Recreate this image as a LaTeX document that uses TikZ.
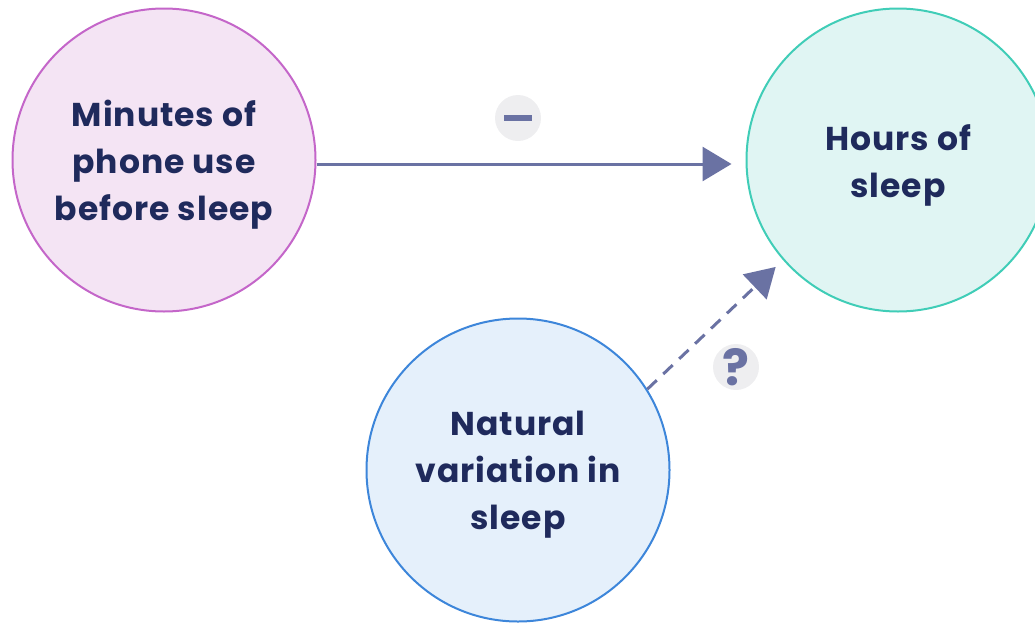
\documentclass[tikz,border=0pt]{standalone}
\usepackage{fontspec}
\setmainfont{Poppins}[LetterSpace=3]
\usetikzlibrary{arrows.meta}
\definecolor{navy}{HTML}{1F2A5C}
\definecolor{arrowc}{HTML}{6A72A3}
\definecolor{pinkfill}{HTML}{F4E4F4}
\definecolor{pinkline}{HTML}{C466C9}
\definecolor{tealfill}{HTML}{E0F5F3}
\definecolor{tealline}{HTML}{40CDB7}
\definecolor{bluefill}{HTML}{E5F0FB}
\definecolor{blueline}{HTML}{3D86DA}
\definecolor{badgefill}{HTML}{EEEEF0}
\tikzset{
  bubble/.style={circle, minimum size=303pt, inner sep=0pt, line width=2pt},
  lbl/.style={align=center, text=navy, inner sep=0pt,
    font=\fontsize{33}{47}\selectfont\bfseries},
  link/.style={draw=arrowc, line width=3pt, -{Triangle[length=29pt,width=34pt]}},
  badge/.style={circle, fill=badgefill, minimum size=46pt, inner sep=0pt},
}
\begin{document}
\begin{tikzpicture}[x=1pt,y=-1pt]
\useasboundingbox (0,0) rectangle (1035,624);
\node[bubble, fill=pinkfill, draw=pinkline] (L) at (164,160) {};
\node[bubble, fill=tealfill, draw=tealline] (R) at (898,160) {};
\node[bubble, fill=bluefill, draw=blueline] (B) at (518,470) {};
\node[lbl] (Lt) at ([yshift=-5pt]L.center) {Minutes of\\phone use\\before sleep};
\node[lbl] (Rt) at ([yshift=-5pt]R.center) {Hours of\\sleep};
\node[lbl] (Bt) at ([yshift=-5pt]B.center) {Natural\\variation in\\sleep};
\draw[link, shorten >=14pt] ([yshift=-4pt]L.east) -- ([yshift=-4pt]R.west);
\draw[link, dash pattern=on 13pt off 9pt, shorten >=10pt] (B.32) -- (R.221);
\node[badge] (m) at (518,118) {};
\fill[arrowc] ([xshift=-14pt,yshift=-3pt]m.center) rectangle ([xshift=14pt,yshift=3pt]m.center);
\node[badge] (q) at (736,367) {};
\node[text=arrowc, inner sep=0pt, font=\fontsize{50}{50}\selectfont\bfseries] (qt) at (q.center) {?};
\end{tikzpicture}
\end{document}
